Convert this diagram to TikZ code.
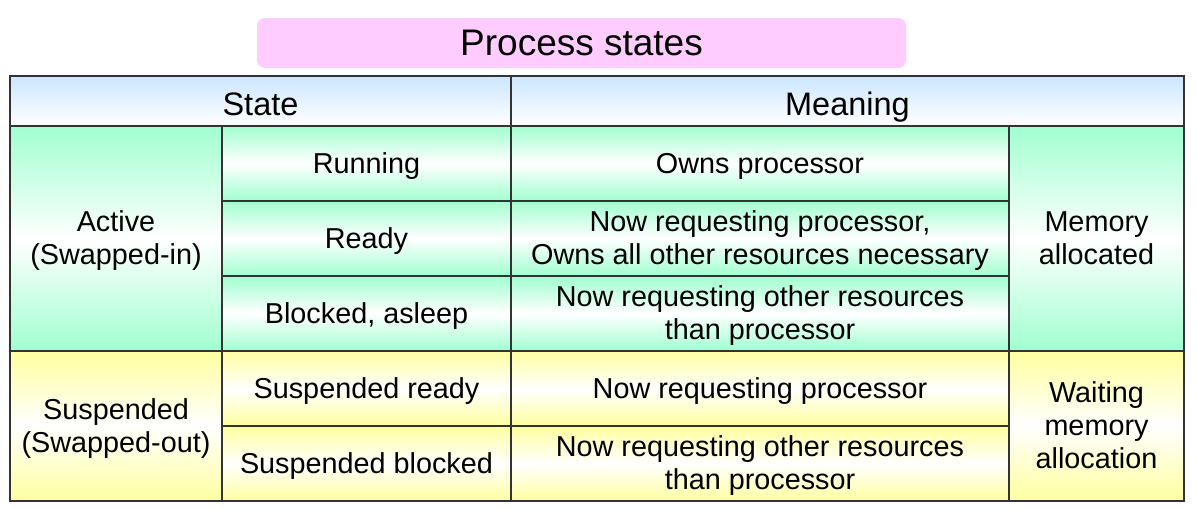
\documentclass[tikz,border=0pt]{standalone}
\usepackage{fontspec}
\setmainfont{Liberation Sans}
\usepackage{tikz}
\usetikzlibrary{positioning}

\definecolor{titlepink}{HTML}{FFCCFF}
\definecolor{headblue}{HTML}{CCE6FF}
\definecolor{activegreen}{HTML}{A0FFD0}
\definecolor{suspyellow}{HTML}{FFFFA0}
\definecolor{gridgray}{HTML}{333333}

\begin{document}
\begin{tikzpicture}[x=1pt,y=-1pt,
	celltext/.style={align=center, inner sep=0pt, yshift=-2.5pt, text depth=6pt,
		font=\fontsize{28.8}{33}\selectfont},
	headtext/.style={celltext, yshift=-4pt, text depth=6.8pt, font=\fontsize{32.5}{36}\selectfont},
	cell/.style={draw=gridgray, line width=1.5pt, inner sep=0pt},
	headcell/.style={cell, top color=headblue, bottom color=white},
	activecell/.style={cell, top color=activegreen, bottom color=activegreen, middle color=white},
	suspcell/.style={cell, top color=suspyellow, bottom color=suspyellow, middle color=white}]
	
	\useasboundingbox (0,0) rectangle (1197,510);
	
	% title
	\node[fill=titlepink, rounded corners=8pt, minimum width=649pt, minimum height=50pt,
		font=\fontsize{37}{40}\selectfont] (title) at (581.5,43) {Process states};
	
	% header row
	\node[headcell, minimum width=501pt, minimum height=50pt,
		label={[headtext]center:State}] (state) at (260.5,101) {};
	\node[headcell, minimum width=673pt, minimum height=50pt,
		label={[headtext]center:Meaning}] (meaning) at (847.5,101) {};
	
	% active (swapped-in)
	\node[activecell, minimum width=212pt, minimum height=225pt,
		label={[celltext]center:Active\\(Swapped-in)}] (active) at (116,238.5) {};
	\node[activecell, minimum width=289pt, minimum height=75pt,
		label={[celltext]center:Running}] (running) at (366.5,163.5) {};
	\node[activecell, minimum width=289pt, minimum height=75pt,
		label={[celltext]center:Ready}] (ready) at (366.5,238.5) {};
	\node[activecell, minimum width=289pt, minimum height=75pt,
		label={[celltext]center:{Blocked, asleep}}] (blocked) at (366.5,313.5) {};
	\node[activecell, minimum width=498pt, minimum height=75pt,
		label={[celltext]center:Owns processor}] (ownsproc) at (760,163.5) {};
	\node[activecell, minimum width=498pt, minimum height=75pt,
		label={[celltext]center:{Now requesting processor,\\Owns all other resources necessary}}] (reqproc) at (760,238.5) {};
	\node[activecell, minimum width=498pt, minimum height=75pt,
		label={[celltext]center:Now requesting other resources\\than processor}] (reqother) at (760,313.5) {};
	\node[activecell, minimum width=175pt, minimum height=225pt,
		label={[celltext]center:Memory\\allocated}] (memalloc) at (1096.5,238.5) {};
	
	% suspended (swapped-out)
	\node[suspcell, minimum width=212pt, minimum height=150pt,
		label={[celltext]center:Suspended\\(Swapped-out)}] (suspended) at (116,426) {};
	\node[suspcell, minimum width=289pt, minimum height=75pt,
		label={[celltext]center:Suspended ready}] (suspready) at (366.5,388.5) {};
	\node[suspcell, minimum width=289pt, minimum height=75pt,
		label={[celltext]center:Suspended blocked}] (suspblocked) at (366.5,463.5) {};
	\node[suspcell, minimum width=498pt, minimum height=75pt,
		label={[celltext]center:Now requesting processor}] (sreqproc) at (760,388.5) {};
	\node[suspcell, minimum width=498pt, minimum height=75pt,
		label={[celltext]center:Now requesting other resources\\than processor}] (sreqother) at (760,463.5) {};
	\node[suspcell, minimum width=175pt, minimum height=150pt,
		label={[celltext]center:Waiting\\memory\\allocation}] (memwait) at (1096.5,426) {};
	
\end{tikzpicture}
\end{document}
